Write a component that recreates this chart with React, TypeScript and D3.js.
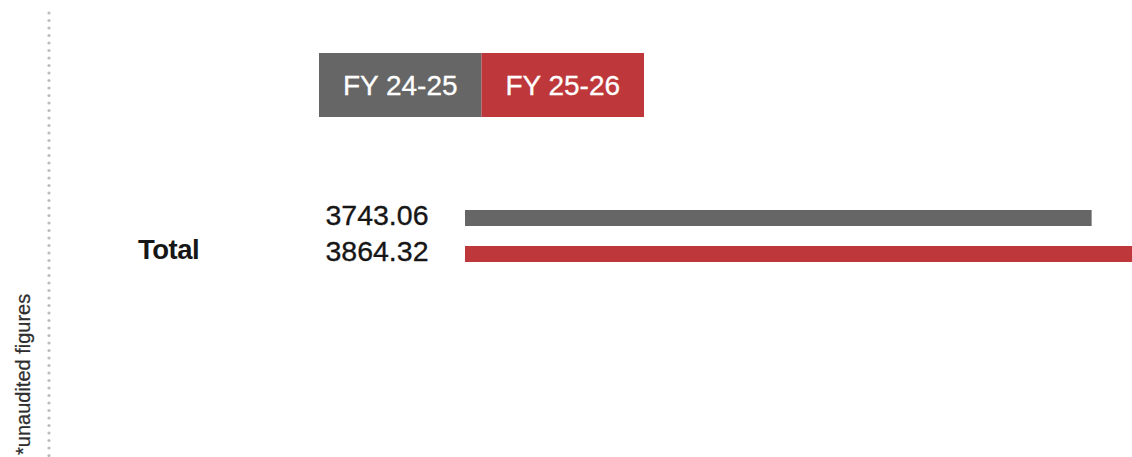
import React from "react";
import * as d3 from "d3";

const categories = ["Total"];
const seriesNames = ["FY 24-25", "FY 25-26"];
const seriesColors = ["#666666", "#be373a"];
const valuesFY2425 = [3743.06];
const valuesFY2526 = [3864.32];
const footnote = "*unaudited figures";

const W = 1132;
const H = 457;
const FONT = "'Liberation Sans', Arial, Helvetica, sans-serif";

export default function App() {
  const series = [valuesFY2425, valuesFY2526];

  const x = d3.scaleLinear().domain([2000, 4000]).range([465, 1184]);
  const yOuter = d3.scaleBand<string>().domain(categories).range([200, 272]).padding(0);
  const yInner = d3
    .scaleBand<string>()
    .domain(seriesNames)
    .range([0, yOuter.bandwidth()])
    .paddingInner(20 / 36)
    .paddingOuter(10 / 36);

  const legendX = d3.scaleBand<string>().domain(seriesNames).range([319, 644]).padding(0);

  const dotYs = d3.range(13, 457, 7.5);

  return (
    <div style={{ position: "absolute", left: 0, top: 0, width: W, height: H, overflow: "hidden" }}>
      <svg width={W} height={H} style={{ display: "block", background: "#fff" }}>
        {/* dotted separator */}
        {dotYs.map((dy, i) => (
          <circle key={i} cx={49} cy={dy} r={1.6} fill="#bdbdbd" />
        ))}
        {/* footnote */}
        <text
          transform={`translate(30,455) rotate(-90)`}
          fontFamily={FONT}
          fontSize={20}
          fill="#2e2e2e"
          stroke="#2e2e2e"
          strokeWidth={0.25}
        >
          {footnote}
        </text>

        {/* legend */}
        {seriesNames.map((s, i) => (
          <g key={s}>
            <rect x={legendX(s)} y={53} width={legendX.bandwidth()} height={64} fill={seriesColors[i]} />
            <text
              x={(legendX(s) as number) + legendX.bandwidth() / 2}
              y={95}
              textAnchor="middle"
              fontFamily={FONT}
              fontSize={28}
              fill="#fff"
              stroke="#fff"
              strokeWidth={0.3}
            >
              {s}
            </text>
          </g>
        ))}

        {/* bars */}
        {categories.map((c, ci) => {
          const y0 = yOuter(c) as number;
          return (
            <g key={c}>
              {seriesNames.map((s, si) => {
                const v = series[si][ci];
                const by = y0 + (yInner(s) as number);
                return (
                  <g key={s}>
                    <rect
                      x={x(2000)}
                      y={by}
                      width={x(v) - x(2000)}
                      height={yInner.bandwidth()}
                      fill={seriesColors[si]}
                    />
                    <text
                      x={428.5}
                      y={by + yInner.bandwidth() / 2 + 7}
                      textAnchor="end"
                      fontFamily={FONT}
                      fontSize={28.5}
                      fill="#161616"
                      stroke="#161616"
                      strokeWidth={0.35}
                    >
                      {v.toFixed(2)}
                    </text>
                  </g>
                );
              })}
              <text
                x={138}
                y={y0 + (yInner(seriesNames[1]) as number) + yInner.bandwidth() / 2 + 5}
                fontFamily={FONT}
                fontSize={27.5}
                fontWeight="bold"
                fill="#161616"
                letterSpacing={-0.5}
              >
                {c}
              </text>
            </g>
          );
        })}
      </svg>
    </div>
  );
}
